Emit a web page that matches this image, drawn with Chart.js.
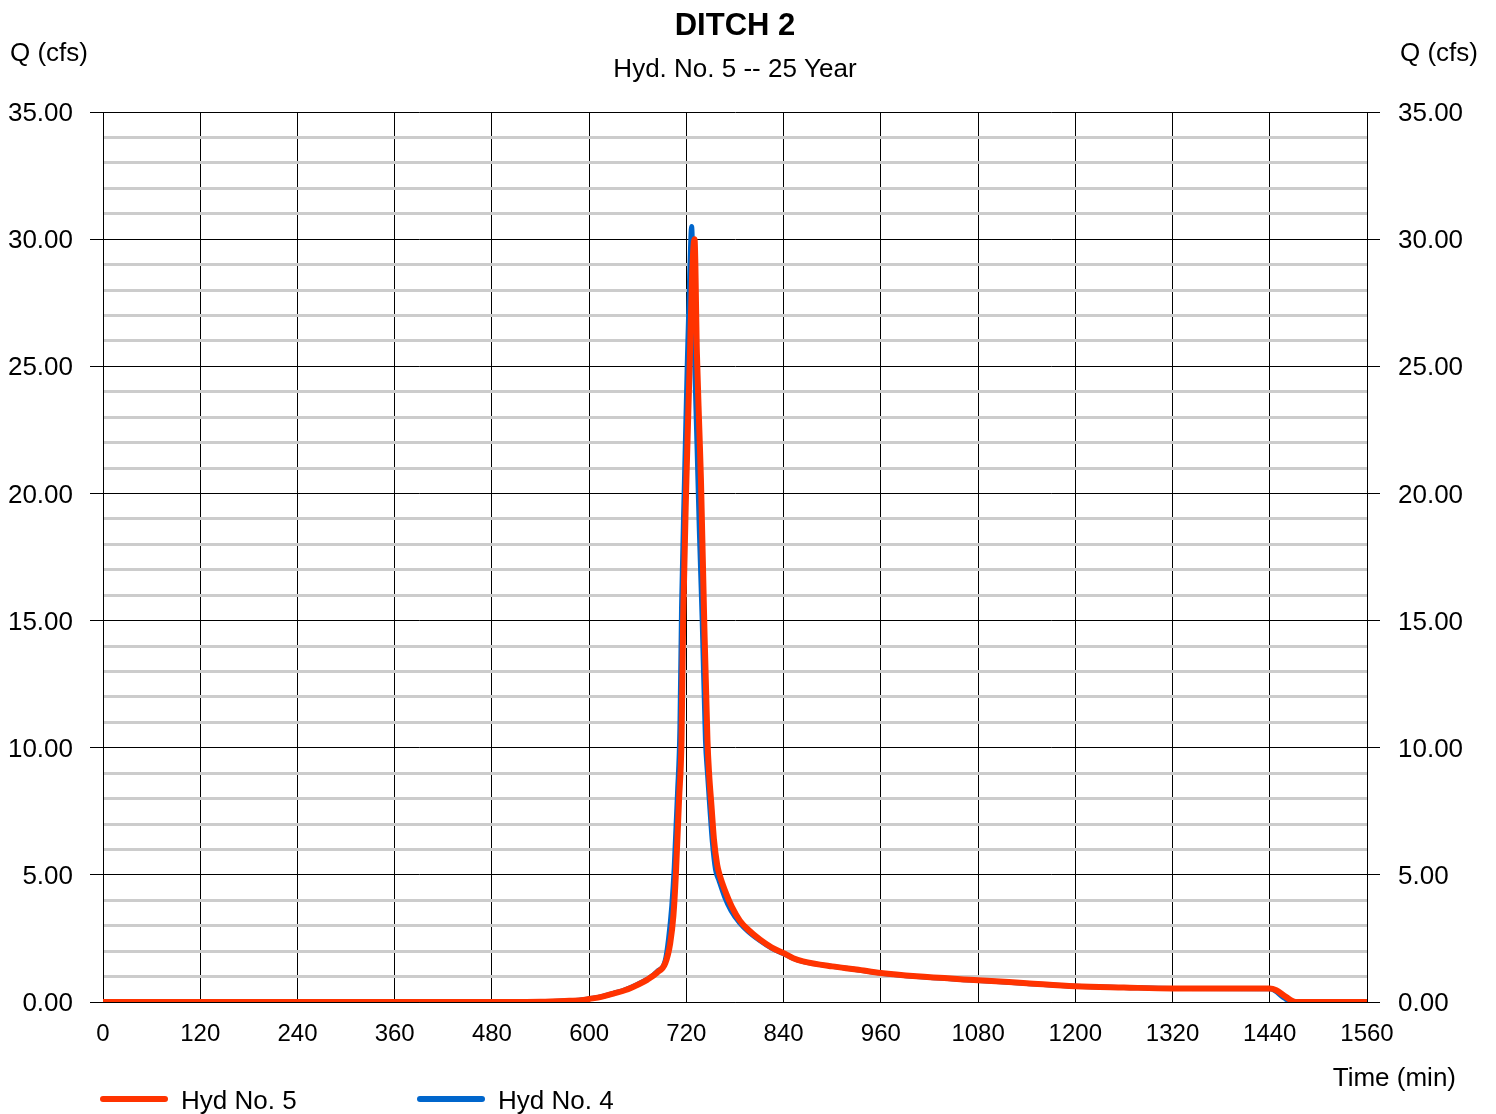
<!DOCTYPE html>
<html lang="en">
<head>
    <meta charset="UTF-8">
    <title>DITCH 2</title>
    <script src="https://cdn.jsdelivr.net/npm/chart.js"></script>
    <style>
        html, body { margin: 0; padding: 0; background: #fff; }
    </style>
</head>
<body>
    <canvas id="hydro" width="1496" height="1114"></canvas>

    <script>
        // Hyd No. 5 (routed through ditch) - time in min, flow in cfs
        const timeHyd5 = [0, 480, 540, 570, 590, 600, 615, 630, 645, 660, 672, 684, 694, 700, 704, 707, 711, 714, 716, 720, 724, 727, 730,
            733, 736, 738, 742, 746, 748, 751, 754, 758, 761, 768, 776, 786, 796, 811, 825, 840, 852, 864, 900, 930, 960, 1004, 1080,
            1140, 1200, 1260, 1320, 1440, 1448, 1460, 1472, 1560];
        const flowHyd5 = [0, 0, 0.01, 0.04, 0.07, 0.12, 0.2, 0.33, 0.47, 0.68, 0.88, 1.16, 1.53, 2.3, 3.4, 5.0, 8.0, 10.3, 15.0, 20.5, 25.0, 28.5, 30.0,
            25.5, 22.5, 20.5, 15.0, 10.3, 9.0, 7.7, 6.4, 5.4, 5.0, 4.35, 3.75, 3.2, 2.85, 2.45, 2.15, 1.92, 1.72, 1.6, 1.4, 1.28, 1.14, 1.01, 0.86,
            0.74, 0.62, 0.57, 0.53, 0.53, 0.46, 0.2, 0, 0];

        // Hyd No. 4 (inflow)
        const timeHyd4 = [0, 480, 540, 570, 590, 600, 615, 630, 645, 660, 672, 684, 694, 698, 702, 705, 709, 712, 714, 717.6, 721, 724, 726.5,
            729.5, 733, 736, 739.5, 743.5, 746, 749, 752, 756, 760, 767, 775, 786, 796, 811, 825, 840, 852, 864, 900, 930, 960, 1004, 1080,
            1140, 1200, 1260, 1320, 1440, 1446, 1458, 1468, 1560];
        const flowHyd4 = [0, 0, 0.01, 0.04, 0.08, 0.13, 0.21, 0.34, 0.49, 0.7, 0.9, 1.2, 1.65, 2.5, 3.8, 5.3, 8.2, 10.8, 15.5, 20.5, 25.0, 28.5, 30.5,
            26.0, 22.0, 18.5, 15.0, 10.3, 9.0, 7.6, 6.3, 5.2, 4.8, 4.15, 3.6, 3.1, 2.78, 2.41, 2.12, 1.9, 1.71, 1.59, 1.4, 1.27, 1.13, 1.0, 0.85,
            0.73, 0.62, 0.57, 0.53, 0.52, 0.45, 0.15, 0, 0];

        const xMax = 1560;
        const xStep = 120;
        const yMax = 35;

        const FONT = "'Liberation Sans', Arial, sans-serif";
        const RED = '#ff3300';
        const BLUE = '#0066cc';

        function toPoints(xs, ys) {
            return xs.map((x, i) => ({ x: x, y: ys[i] }));
        }

        const isMajor = ctx => ctx.tick && ctx.tick.value % 5 === 0;

        // titles, axis names and legend
        const textPlugin = {
            id: 'texts',
            afterDraw(chart) {
                const ctx = chart.ctx;
                const area = chart.chartArea;
                const mid = (area.left + area.right) / 2;
                ctx.save();
                ctx.fillStyle = '#000';
                ctx.textBaseline = 'middle';

                ctx.textAlign = 'center';
                ctx.font = 'bold 31px ' + FONT;
                ctx.fillText('DITCH 2', mid, 26);
                ctx.font = '26px ' + FONT;
                ctx.fillText('Hyd. No. 5 -- 25 Year', mid, 70);

                ctx.textAlign = 'left';
                ctx.fillText('Q (cfs)', 10, 54);
                ctx.textAlign = 'right';
                ctx.fillText('Q (cfs)', 1478, 54);
                ctx.fillText('Time (min)', 1456, 1079);

                // legend
                const items = [
                    { label: 'Hyd No. 5', color: RED, x: 103 },
                    { label: 'Hyd No. 4', color: BLUE, x: 420 }
                ];
                ctx.textAlign = 'left';
                ctx.lineCap = 'round';
                ctx.lineWidth = 6;
                items.forEach(it => {
                    ctx.strokeStyle = it.color;
                    ctx.beginPath();
                    ctx.moveTo(it.x, 1099);
                    ctx.lineTo(it.x + 62, 1099);
                    ctx.stroke();
                    ctx.fillText(it.label, it.x + 78, 1102);
                });
                ctx.restore();
            }
        };

        new Chart(document.getElementById('hydro'), {
            type: 'line',
            data: {
                datasets: [
                    {
                        label: 'Hyd No. 5',
                        data: toPoints(timeHyd5, flowHyd5),
                        borderColor: RED,
                        borderWidth: 6,
                        pointRadius: 0,
                        cubicInterpolationMode: 'monotone',
                        borderCapStyle: 'round',
                        borderJoinStyle: 'round',
                        yAxisID: 'y'
                    },
                    {
                        label: 'Hyd No. 4',
                        data: toPoints(timeHyd4, flowHyd4),
                        borderColor: BLUE,
                        borderWidth: 5,
                        pointRadius: 0,
                        cubicInterpolationMode: 'monotone',
                        borderCapStyle: 'round',
                        borderJoinStyle: 'round',
                        yAxisID: 'y'
                    }
                ]
            },
            options: {
                responsive: false,
                animation: false,
                layout: { padding: { top: 112, left: 0, right: 0, bottom: 0 } },
                plugins: {
                    legend: { display: false },
                    title: { display: false },
                    tooltip: { enabled: false }
                },
                scales: {
                    x: {
                        type: 'linear',
                        min: 0,
                        max: xMax,
                        afterFit: s => { s.height = 112; },
                        ticks: {
                            stepSize: xStep,
                            color: '#000',
                            font: { family: FONT, size: 24 },
                            padding: 18,
                            maxRotation: 0,
                            callback: v => String(v)
                        },
                        grid: { color: '#000', lineWidth: 1, drawTicks: false },
                        border: { color: '#000', width: 1 }
                    },
                    y: {
                        position: 'left',
                        min: 0,
                        max: yMax,
                        afterFit: s => { s.width = 103; },
                        ticks: {
                            stepSize: 1,
                            autoSkip: false,
                            color: '#000',
                            font: { family: FONT, size: 26 },
                            padding: 17,
                            labelOffset: 2,
                            callback: v => v % 5 === 0 ? v.toFixed(2) : ''
                        },
                        grid: {
                            color: ctx => isMajor(ctx) ? '#000' : '#cccccc',
                            lineWidth: ctx => isMajor(ctx) ? 1 : 3,
                            tickColor: ctx => isMajor(ctx) ? '#000' : 'rgba(0,0,0,0)',
                            tickLength: 13
                        },
                        border: { color: '#000', width: 1 }
                    },
                    y2: {
                        position: 'right',
                        min: 0,
                        max: yMax,
                        afterFit: s => { s.width = 129; },
                        ticks: {
                            stepSize: 1,
                            autoSkip: false,
                            color: '#000',
                            font: { family: FONT, size: 26 },
                            padding: 18,
                            labelOffset: 2,
                            callback: v => v % 5 === 0 ? v.toFixed(2) : ''
                        },
                        grid: {
                            drawOnChartArea: false,
                            color: ctx => isMajor(ctx) ? '#000' : 'rgba(0,0,0,0)',
                            tickColor: ctx => isMajor(ctx) ? '#000' : 'rgba(0,0,0,0)',
                            tickLength: 13
                        },
                        border: { color: '#000', width: 1 }
                    }
                }
            },
            plugins: [textPlugin]
        });
    </script>
</body>
</html>
